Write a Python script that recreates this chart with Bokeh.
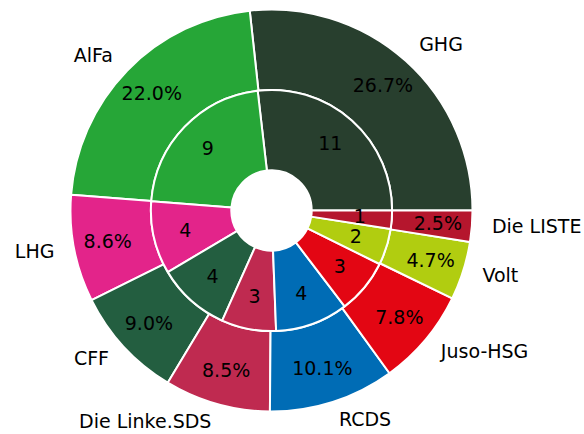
import numpy as np
from bokeh.plotting import figure
from bokeh.models import ColumnDataSource, Range1d
from bokeh.core.properties import value
from bokeh.embed import file_html
from bokeh.resources import INLINE

parties = ["GHG", "AlFa", "LHG", "CFF", "Die Linke.SDS", "RCDS", "Juso-HSG", "Volt", "Die LISTE"]
vote_pct = [26.7, 22.0, 8.6, 9.0, 8.5, 10.1, 7.8, 4.7, 2.5]
seats = [11, 9, 4, 4, 3, 4, 3, 2, 1]
colors = ["#283f2e", "#26a637", "#e3248a", "#235e40", "#bf2a50", "#006cb5", "#e30613", "#b1cd10", "#b5162d"]

W, H = 584, 434
cx, cy = 271, 210
R = 201.0
FS = "19px"

p = figure(width=W, height=H, output_backend="svg", toolbar_location=None,
           x_range=Range1d(-cx, W - cx), y_range=Range1d(cy - H, cy),
           min_border=0)
p.axis.visible = False
p.grid.visible = False
p.outline_line_color = None
p.background_fill_color = "white"


def angles(vals):
    v = np.array(vals, dtype=float)
    frac = v / v.sum() * 2 * np.pi
    end = np.cumsum(frac)
    start = end - frac
    return start, end


s_out, e_out = angles(vote_pct)
s_in, e_in = angles(seats)

outer = ColumnDataSource(dict(start=s_out, end=e_out, color=colors))
inner = ColumnDataSource(dict(start=s_in, end=e_in, color=colors))

p.annular_wedge(x=0, y=0, inner_radius=0.6 * R, outer_radius=R, start_angle="start", end_angle="end",
                direction="anticlock", fill_color="color", line_color="white", line_width=2, source=outer)
p.annular_wedge(x=0, y=0, inner_radius=0.2 * R, outer_radius=0.6 * R, start_angle="start", end_angle="end",
                direction="anticlock", fill_color="color", line_color="white", line_width=2, source=inner)

mid_out = (s_out + e_out) / 2
mid_in = (s_in + e_in) / 2

lab_r = 1.1 * R
lx = lab_r * np.cos(mid_out)
ly = lab_r * np.sin(mid_out)
align = ["left" if c >= 0 else "right" for c in np.cos(mid_out)]
labels = ColumnDataSource(dict(x=lx, y=ly, t=parties, a=align))
p.text(x="x", y="y", text="t", text_align="a", text_baseline="middle", source=labels, y_offset=-2,
       text_font=value("DejaVu Sans"), text_font_size=FS, text_color="black")

pct_r = 0.83 * R
pct = ColumnDataSource(dict(x=pct_r * np.cos(mid_out), y=pct_r * np.sin(mid_out),
                            t=["%.1f%%" % v for v in vote_pct]))
p.text(x="x", y="y", text="t", text_align="center", text_baseline="middle", source=pct, y_offset=-1,
       text_font=value("DejaVu Sans"), text_font_size=FS, text_color="black")

seat_r = 0.44 * R
st = ColumnDataSource(dict(x=seat_r * np.cos(mid_in), y=seat_r * np.sin(mid_in),
                           t=[str(s) for s in seats]))
p.text(x="x", y="y", text="t", text_align="center", text_baseline="middle", source=st, y_offset=-1,
       text_font=value("DejaVu Sans"), text_font_size=FS, text_color="black")

open("out.html", "w").write(file_html(p, INLINE))
